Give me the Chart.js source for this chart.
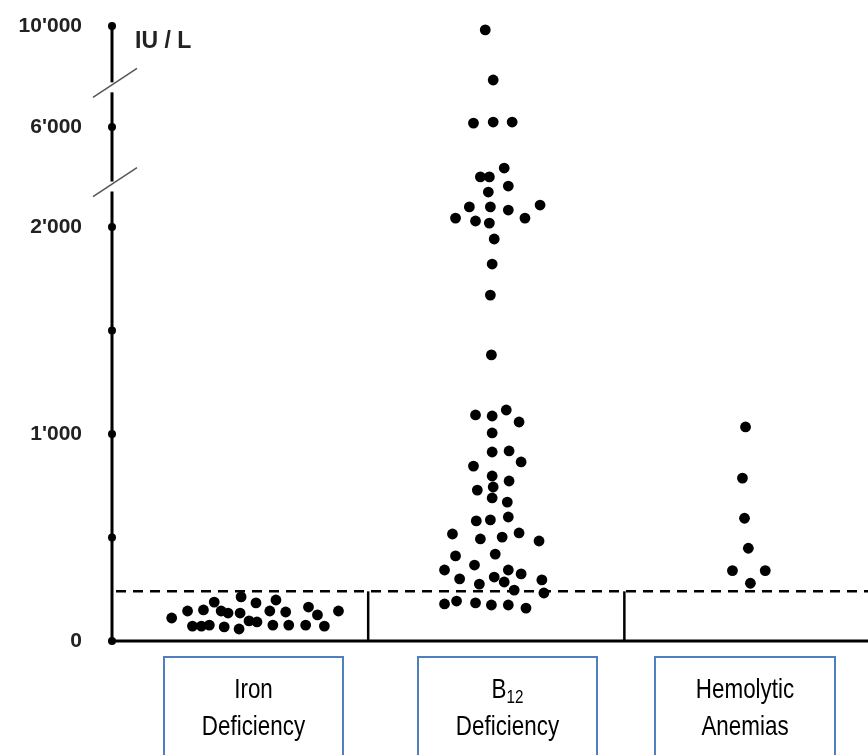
<!DOCTYPE html>
<html>
<head>
<meta charset="utf-8">
<script src="https://cdn.jsdelivr.net/npm/chart.js@4.4.0/dist/chart.umd.min.js"></script>
<style>
  body { margin: 0; background: #fff; }
  canvas { display: block; }
</style>
</head>
<body>
<canvas id="myChart" width="868" height="755"></canvas>
<script>
// groups along the x axis
const categories = ['Iron Deficiency', 'B12 Deficiency', 'Hemolytic Anemias'];

// values in IU/L, jitter = sideways offset of each dot inside its group
const ironValues = [111, 145, 72, 72, 77, 150, 188, 145, 135, 68, 58, 213, 135, 97, 184, 92, 198, 145, 140, 77, 77, 77, 164, 126, 72, 145];
const ironJitter = [-0.267, -0.205, -0.186, -0.151, -0.120, -0.143, -0.101, -0.074, -0.047, -0.062, -0.004, 0.004, 0, 0.035, 0.062, 0.066, 0.140, 0.116, 0.178, 0.128, 0.190, 0.256, 0.267, 0.302, 0.329, 0.384];

const b12Values = [1092, 1087, 1116, 1058, 1005, 913, 918, 865, 845, 797, 773, 729, 744, 691, 671, 580, 585, 599, 517, 493, 502, 522, 483, 411, 420, 343, 367, 300, 309, 343, 324, 275, 285, 246, 295, 232, 179, 193, 184, 174, 174, 159,
  1382, 1671, 1821, 1942, 2356, 2240, 2157, 2356, 2803, 2803, 2679, 2878, 3399, 3639, 4003, 4003, 4359, 6156, 6197, 6197, 7861, 9844];
const b12Jitter = [-0.081, -0.016, 0.039, 0.089, -0.016, -0.016, 0.050, 0.097, -0.089, -0.016, 0.050, -0.074, -0.012, -0.016, 0.043, -0.078, -0.023, 0.047, -0.171, -0.062, 0.023, 0.089, 0.167, -0.159, -0.004, -0.202, -0.085, -0.143, -0.008, 0.047, 0.097, -0.066, 0.031, 0.070, 0.178, 0.186, -0.202, -0.155, -0.081, -0.019, 0.047, 0.116,
  -0.019, -0.023, -0.016, -0.008, -0.159, -0.081, -0.027, 0.112, -0.105, -0.023, 0.047, 0.171, -0.031, 0.047, -0.062, -0.027, 0.031, -0.089, -0.012, 0.062, -0.012, -0.043];

const hemoValues = [1034, 787, 593, 448, 340, 340, 279];
const hemoJitter = [-0.027, -0.039, -0.031, -0.016, -0.078, 0.050, -0.008];

const yTickValues = [0, 500, 1000, 1500, 2000, 6000, 10000];
const yTickLabels = ['0', '', "1'000", '', "2'000", "6'000", "10'000"];
const upperLimit = 240;

// broken axis: 0-2000 linear, 2000-6000 and 6000-10000 squeezed
const breakFrom = [0, 2000, 6000, 10000];
const breakTo = [0, 2000, 2483, 2971];
function toAxis(v) {
  for (let i = 1; i < breakFrom.length; i++) {
    if (v <= breakFrom[i] || i == breakFrom.length - 1) {
      const t = (v - breakFrom[i - 1]) / (breakFrom[i] - breakFrom[i - 1]);
      return breakTo[i - 1] + t * (breakTo[i] - breakTo[i - 1]);
    }
  }
}
const breakMarks = [toAxis(3700), toAxis(7650)];

function makePoints(values, jitter, cat) {
  return values.map((v, i) => ({ x: cat + 0.5 + jitter[i], y: toAxis(v) }));
}

const labelFont = '"Liberation Sans", Arial, sans-serif';
const boxLeft = [164, 418, 655];
const boxRight = [343, 597, 835];

// narrow text: squeeze Liberation Sans horizontally like Arial Narrow
function narrowText(ctx, text, x, y, size, align) {
  ctx.save();
  ctx.font = size + 'px ' + labelFont;
  ctx.translate(x, y);
  ctx.scale(0.8, 1);
  ctx.textAlign = align || 'center';
  ctx.fillText(text, 0, 0);
  ctx.restore();
}
function narrowWidth(ctx, text, size) {
  ctx.save();
  ctx.font = size + 'px ' + labelFont;
  const w = ctx.measureText(text).width * 0.8;
  ctx.restore();
  return w;
}

const decor = {
  id: 'decor',
  beforeDatasetsDraw(chart) {
    const ctx = chart.ctx, xs = chart.scales.x, ys = chart.scales.y;
    const left = xs.left, right = chart.width, bottom = ys.bottom;
    const yl = ys.getPixelForValue(upperLimit);
    ctx.save();
    ctx.strokeStyle = '#000';
    // dashed reference line
    ctx.lineWidth = 2.5;
    ctx.setLineDash([10, 7]);
    ctx.beginPath();
    ctx.moveTo(left + 4, yl);
    ctx.lineTo(right, yl);
    ctx.stroke();
    ctx.setLineDash([]);
    // group separators
    [1, 2].forEach(c => {
      const px = xs.getPixelForValue(c);
      ctx.beginPath();
      ctx.moveTo(px, yl);
      ctx.lineTo(px, bottom);
      ctx.stroke();
    });
    // x axis
    ctx.lineWidth = 3;
    ctx.beginPath();
    ctx.moveTo(left, bottom);
    ctx.lineTo(right, bottom);
    ctx.stroke();
    // y axis with gaps at the breaks
    const gaps = breakMarks.map(b => ys.getPixelForValue(b)).sort((a, b) => a - b);
    let yStart = ys.top;
    gaps.forEach(g => {
      ctx.beginPath();
      ctx.moveTo(left, yStart);
      ctx.lineTo(left, g - 3);
      ctx.stroke();
      yStart = g + 7;
    });
    ctx.beginPath();
    ctx.moveTo(left, yStart);
    ctx.lineTo(left, bottom);
    ctx.stroke();
    // slashes
    ctx.strokeStyle = '#555';
    ctx.lineWidth = 1.5;
    gaps.forEach(g => {
      ctx.beginPath();
      ctx.moveTo(left - 19, g + 12);
      ctx.lineTo(left + 25, g - 17);
      ctx.stroke();
    });
    // tick dots
    ctx.fillStyle = '#000';
    ys.ticks.forEach(t => {
      ctx.beginPath();
      ctx.arc(left, ys.getPixelForValue(t.value), 4, 0, Math.PI * 2);
      ctx.fill();
    });
    // unit
    ctx.font = 'bold 23px ' + labelFont;
    ctx.fillStyle = '#222';
    ctx.textBaseline = 'middle';
    ctx.fillText('IU / L', 135, 42);
    ctx.restore();
  },
  afterDraw(chart) {
    const ctx = chart.ctx;
    ctx.save();
    ctx.strokeStyle = '#4f7fbf';
    ctx.lineWidth = 2;
    ctx.fillStyle = '#000';
    ctx.textBaseline = 'middle';
    categories.forEach((cat, i) => {
      const l = boxLeft[i], r = boxRight[i];
      ctx.strokeRect(l, 657, r - l, 120);
      const cx = (l + r) / 2;
      const words = cat.split(' ');
      if (words[0] == 'B12') {
        const wb = narrowWidth(ctx, 'B', 28);
        const ws = narrowWidth(ctx, '12', 19);
        const sx = cx - (wb + ws) / 2;
        narrowText(ctx, 'B', sx, 690, 28, 'left');
        narrowText(ctx, '12', sx + wb, 698, 19, 'left');
      } else {
        narrowText(ctx, words[0], cx, 690, 28);
      }
      narrowText(ctx, words[1], cx, 727, 28);
    });
    ctx.restore();
  }
};

const pointStyle = { pointRadius: 5.4, pointHoverRadius: 5.4, backgroundColor: '#000', borderWidth: 0, clip: false };

new Chart(document.getElementById('myChart').getContext('2d'), {
  type: 'scatter',
  data: {
    datasets: [
      Object.assign({ label: categories[0], data: makePoints(ironValues, ironJitter, 0) }, pointStyle),
      Object.assign({ label: categories[1], data: makePoints(b12Values, b12Jitter, 1) }, pointStyle),
      Object.assign({ label: categories[2], data: makePoints(hemoValues, hemoJitter, 2) }, pointStyle)
    ]
  },
  options: {
    responsive: false,
    animation: false,
    layout: { padding: { top: 26, bottom: 114, left: 0, right: 0 } },
    plugins: { legend: { display: false }, tooltip: { enabled: false } },
    scales: {
      x: { type: 'linear', display: false, min: 0, max: 2.93 },
      y: {
        type: 'linear',
        min: 0,
        max: toAxis(10000),
        grid: { display: false, drawTicks: false },
        border: { display: false },
        afterFit: (scale) => {
          scale.width = 112;
          scale.paddingTop = 0;
          scale.paddingBottom = 0;
        },
        afterBuildTicks: (scale) => { scale.ticks = yTickValues.map(v => ({ value: toAxis(v) })); },
        ticks: {
          autoSkip: false,
          padding: 30,
          color: '#222',
          font: { family: labelFont, size: 21, weight: 'bold' },
          callback: (value, index) => yTickLabels[index]
        }
      }
    }
  },
  plugins: [decor]
});
</script>
</body>
</html>
